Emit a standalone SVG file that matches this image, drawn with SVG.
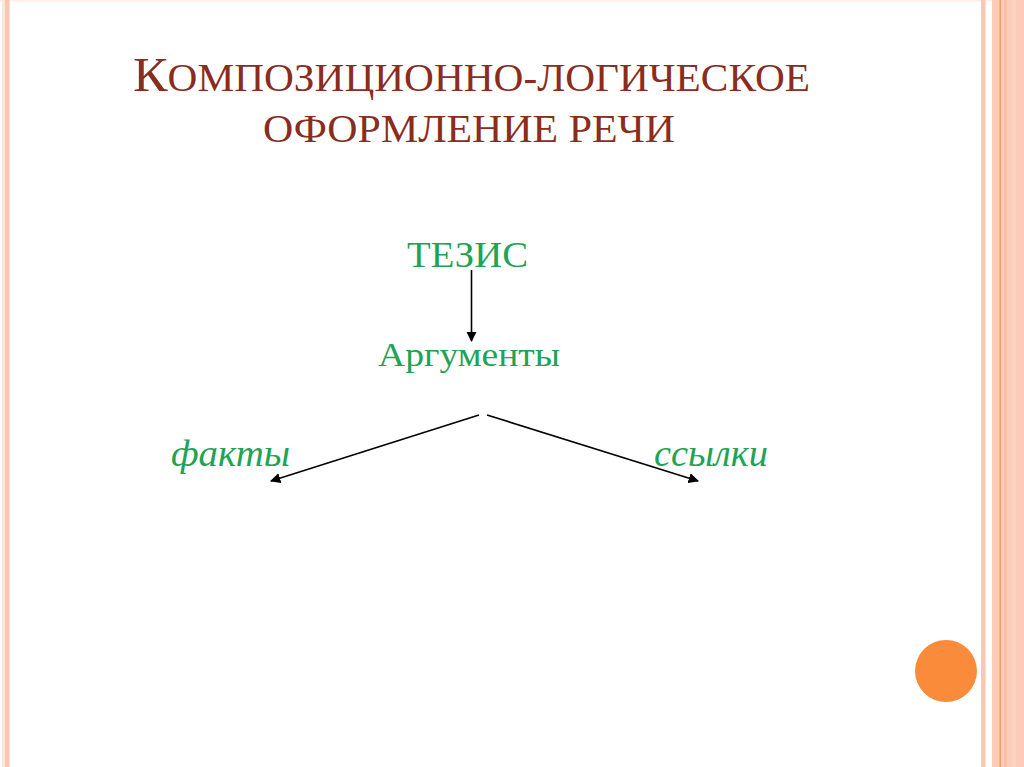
<svg xmlns="http://www.w3.org/2000/svg" width="1024" height="767" viewBox="0 0 1024 767">
<style>
.title{font-family:"Liberation Serif",serif;fill:#8A2C1E}
.lbl{font-family:"Liberation Serif",serif;fill:#1DA456}
.it{font-style:italic}
.conn{stroke:#000;stroke-width:1.6;fill:none;marker-end:url(#ah)}
</style>
<defs>
<marker id="ah" viewBox="0 0 10 10" refX="9" refY="5" markerWidth="6.5" markerHeight="6.5" markerUnits="strokeWidth" orient="auto">
<path d="M0,0 L10,5 L0,10 z" fill="#000"/>
</marker>
</defs>
<rect width="1024" height="767" fill="#fff"/>
<g id="frame">
<rect x="0" y="0" width="1024" height="1.5" fill="#FDEEE8"/>
<rect x="2" y="0" width="3" height="767" fill="#FEE7DE"/>
<rect x="5" y="0" width="4.5" height="767" fill="#FDC4AF"/>
<rect x="981" y="0" width="4.5" height="767" fill="#FAC7B6"/>
<rect x="992" y="0" width="32" height="767" fill="#FDCCB8"/>
<rect x="1004" y="0" width="3" height="767" fill="#FCC0AA"/>
<rect x="1012" y="0" width="4" height="767" fill="#FDD3C2"/>
<rect x="999.5" y="0" width="1.5" height="767" fill="#EE9A6C"/>
<circle cx="946" cy="671" r="31" fill="#FA8B3A"/>
</g>
<g id="title">
<text class="title" x="133" y="91" textLength="677" lengthAdjust="spacingAndGlyphs"><tspan font-size="49">К</tspan><tspan font-size="39">ОМПОЗИЦИОННО-ЛОГИЧЕСКОЕ</tspan></text>
<text class="title" x="263" y="142" font-size="39" textLength="412" lengthAdjust="spacingAndGlyphs">ОФОРМЛЕНИЕ РЕЧИ</text>
</g>
<g id="node-tezis">
<text class="lbl" x="407" y="267" font-size="36" textLength="121" lengthAdjust="spacingAndGlyphs">ТЕЗИС</text>
</g>
<g id="node-argumenty">
<text class="lbl" x="378" y="366" font-size="34" textLength="182" lengthAdjust="spacingAndGlyphs">Аргументы</text>
</g>
<g id="node-fakty">
<text class="lbl it" x="171" y="466" font-size="38" textLength="119" lengthAdjust="spacingAndGlyphs">факты</text>
</g>
<g id="node-ssylki">
<text class="lbl it" x="654" y="466" font-size="38" textLength="114" lengthAdjust="spacingAndGlyphs">ссылки</text>
</g>
<g id="connectors">
<line class="conn" x1="471.5" y1="270" x2="471.5" y2="341"/>
<line class="conn" x1="479" y1="415" x2="271" y2="481"/>
<line class="conn" x1="487" y1="415" x2="698" y2="481"/>
</g>
</svg>
